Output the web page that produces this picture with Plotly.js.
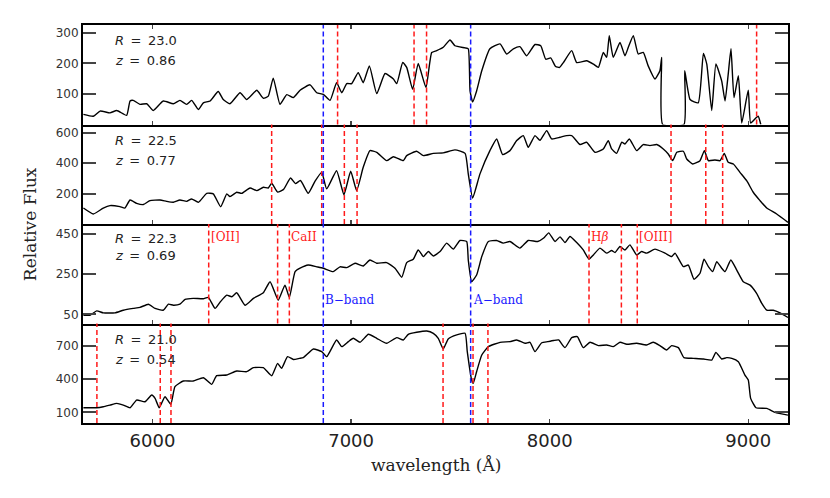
<!DOCTYPE html>
<html>
<head>
<meta charset="utf-8">
<script src="https://cdn.plot.ly/plotly-3.0.1.min.js"></script>
<style>
  body { margin: 0; background: #fff; }
  #plot { width: 830px; height: 498px; }
</style>
</head>
<body>
<div id="plot"></div>
<script>
// spectra (wavelength in Angstrom, relative flux)
const wl1 = [5652,5702,5736,5786,5820,5870,5887,5903,5937,5971,6004,6054,6105,6138,6172,6197,6231,6256,6290,6331,6356,6390,6441,6474,6525,6558,6583,6608,6642,6676,6709,6743,6793,6827,6860,6894,6927,6953,6978,7003,7036,7061,7092,7129,7171,7213,7230,7260,7280,7310,7338,7377,7406,7431,7464,7498,7523,7574,7590,7599,7612,7632,7658,7699,7750,7783,7817,7850,7884,7926,7955,7980,8005,8030,8050,8069,8111,8136,8186,8220,8245,8270,8287,8300,8320,8354,8379,8396,8421,8446,8471,8496,8530,8555,8564,8569,8676,8680,8707,8748,8774,8791,8816,8837,8866,8883,8899,8913,8928,8950,8967,9000,9012,9039,9050,9063];
const flux1 = [33,27,44,38,46,30,77,79,66,68,46,77,68,79,66,79,49,71,77,108,82,68,104,82,112,86,93,152,66,98,88,112,130,104,99,79,137,104,134,134,170,137,192,101,167,149,134,203,187,115,200,121,236,242,253,277,258,251,248,110,74,110,176,248,264,231,248,255,225,262,258,214,218,190,187,203,242,203,209,198,187,236,220,291,220,269,225,253,291,231,236,192,149,176,220,0,0,176,82,71,233,198,46,198,143,77,165,248,88,160,5,112,5,22,27,0];

const wl2 = [5652,5702,5752,5786,5836,5861,5887,5920,5954,5987,6038,6071,6105,6138,6172,6197,6231,6273,6306,6343,6374,6390,6424,6449,6491,6525,6558,6583,6600,6630,6660,6695,6720,6745,6784,6818,6852,6877,6927,6964,6998,7028,7061,7095,7129,7179,7213,7263,7280,7330,7364,7414,7464,7523,7574,7590,7612,7649,7699,7733,7763,7800,7834,7867,7892,7926,7951,7985,8010,8052,8085,8111,8153,8186,8228,8270,8295,8312,8337,8363,8379,8401,8438,8471,8505,8539,8572,8597,8619,8640,8673,8690,8720,8757,8779,8799,8832,8858,8879,8899,8925,8958,8992,9025,9059,9093,9143,9200];
const flux2 = [105,66,105,121,114,105,158,136,128,154,158,149,143,158,149,165,143,202,198,114,198,180,209,202,237,220,242,237,268,210,228,303,266,286,202,281,340,231,351,193,347,220,373,483,472,417,443,417,450,479,450,465,468,488,465,330,171,330,483,560,457,483,549,582,505,582,551,615,560,571,582,582,523,538,472,494,549,494,465,538,527,560,483,523,516,523,494,461,417,472,479,428,395,417,483,417,421,417,465,406,395,340,285,209,154,105,66,11];

const wl3 = [5652,5685,5719,5752,5811,5853,5903,5937,5979,6013,6054,6080,6105,6138,6164,6205,6256,6281,6315,6340,6374,6399,6424,6466,6508,6558,6592,6633,6667,6689,6718,6743,6784,6827,6860,6910,6944,6978,7020,7061,7095,7129,7179,7221,7255,7280,7313,7338,7364,7389,7414,7448,7481,7515,7548,7582,7590,7607,7632,7658,7691,7733,7766,7800,7850,7892,7940,7970,7995,8027,8052,8077,8102,8136,8169,8198,8220,8253,8287,8312,8329,8354,8379,8404,8438,8463,8488,8530,8581,8614,8631,8673,8698,8727,8757,8777,8799,8821,8841,8866,8883,8912,8942,8975,9009,9042,9068,9093,9126,9160,9200];
const flux3 = [46,46,68,58,58,71,80,85,101,80,71,101,96,101,125,130,128,135,80,111,146,138,158,96,130,158,213,121,196,135,263,280,296,287,280,263,287,283,305,291,321,305,308,280,235,308,325,371,338,363,341,363,405,375,418,413,321,213,246,338,413,418,405,413,380,418,413,430,456,413,436,408,438,408,371,325,346,380,355,368,358,388,371,396,346,363,355,375,355,338,355,288,296,225,255,325,288,263,313,280,263,321,271,213,196,155,105,71,71,58,35];

const wl4 = [5652,5719,5752,5786,5820,5853,5887,5920,5962,5996,6013,6034,6063,6092,6113,6155,6205,6256,6298,6323,6374,6424,6474,6508,6558,6600,6630,6650,6680,6709,6740,6759,6810,6852,6877,6927,6953,6986,7011,7045,7087,7129,7179,7230,7263,7288,7330,7381,7414,7439,7464,7489,7532,7574,7585,7607,7615,7632,7658,7691,7750,7800,7834,7876,7901,7926,7960,7990,8020,8045,8077,8111,8139,8169,8203,8245,8287,8320,8354,8388,8438,8488,8522,8555,8589,8614,8648,8676,8723,8774,8816,8837,8866,8891,8917,8950,8983,9000,9012,9039,9093,9135,9200];
const flux4 = [141,141,150,165,180,165,141,210,195,255,225,141,240,171,330,381,381,411,351,429,435,471,465,501,501,429,540,495,600,575,585,591,669,645,600,750,690,735,765,729,801,765,720,771,750,801,819,831,810,765,669,759,795,810,645,390,360,465,615,690,729,735,750,720,729,645,725,735,745,750,681,771,780,681,729,699,705,690,729,711,720,705,729,699,660,699,681,591,585,579,570,639,579,591,585,555,435,390,225,141,135,99,75];

// observed positions of the marked lines (red) and telluric bands (blue)
const lines1 = [6932, 7317, 7380, 9042];
const lines2 = [6600, 6852, 6966, 7030, 8611, 8786, 8871];
const lines3 = [6283, 6630, 6689, 8198, 8361, 8441];
const lines4 = [5720, 6039, 6093, 7463, 7614, 7689];
const bands = [6860, 7602];

const magR = ["23.0", "22.5", "22.3", "21.0"];
const redshift = ["0.86", "0.77", "0.69", "0.54"];

const yRanges = [[0, 326], [0, 655], [5, 500], [4, 898]];
const yTicks = [[100, 200, 300], [200, 400, 600], [50, 250, 450], [100, 400, 700]];
const xTicks = [6000, 7000, 8000, 9000];

// labels in the third panel
const labelNames = ["[OII]", "CaII", "H<i>β</i>", "[OIII]"];
const labelWl = [6283, 6689, 8198, 8441];
const bandNames = ["B\u2212band", "A\u2212band"];

const panels = [
  {wl: wl1, flux: flux1, lines: lines1},
  {wl: wl2, flux: flux2, lines: lines2},
  {wl: wl3, flux: flux3, lines: lines3},
  {wl: wl4, flux: flux4, lines: lines4}
];

const traces = [];
const shapes = [];
const annotations = [];
const layout = {
  width: 830,
  height: 498,
  margin: {l: 83, r: 42, t: 25, b: 75},
  paper_bgcolor: "white",
  plot_bgcolor: "white",
  showlegend: false,
  font: {family: "DejaVu Sans", color: "black"}
};

// label offsets from panel top (fraction of panel height)
const rPos = [0.84, 0.835, 0.857, 0.84];
const zPos = [0.64, 0.64, 0.68, 0.64];

panels.forEach((p, i) => {
  const s = i === 0 ? "" : String(i + 1);
  traces.push({
    x: p.wl,
    y: p.flux,
    xaxis: "x" + s,
    yaxis: "y" + s,
    type: "scatter",
    mode: "lines",
    line: {color: "black", width: 1.4, shape: "spline", smoothing: 0.45},
    hoverinfo: "skip"
  });

  // only the top panel mirrors its x line, so shared borders stay single
  layout["xaxis" + s] = {
    range: [5650, 9200],
    anchor: "y" + s,
    tickvals: xTicks,
    ticks: "inside",
    ticklen: 4,
    tickwidth: 1.5,
    showline: true,
    linewidth: 2,
    linecolor: "black",
    mirror: i === 0 ? "ticks" : false,
    showgrid: false,
    zeroline: false,
    showticklabels: i === 3,
    tickfont: {family: "DejaVu Sans", size: 18, color: "#222"}
  };
  layout["yaxis" + s] = {
    domain: [(3 - i) * 0.25, (4 - i) * 0.25],
    range: yRanges[i],
    anchor: "x" + s,
    tickvals: yTicks[i],
    ticks: "inside",
    ticklen: 13,
    tickwidth: 2,
    showline: true,
    linewidth: 2,
    linecolor: "black",
    mirror: "ticks",
    showgrid: false,
    zeroline: false,
    tickfont: {family: "DejaVu Sans", size: 12, color: "#333"}
  };

  p.lines.forEach(w => shapes.push({
    type: "line", xref: "x" + s, yref: "y" + s + " domain",
    x0: w, x1: w, y0: 0, y1: 1,
    line: {color: "#ff1a1a", width: 1.5, dash: "5px,3px"}
  }));
  bands.forEach(w => shapes.push({
    type: "line", xref: "x" + s, yref: "y" + s + " domain",
    x0: w, x1: w, y0: 0, y1: 1,
    line: {color: "#1a1aff", width: 1.5, dash: "5px,3px"}
  }));

  annotations.push({
    xref: "paper", yref: "y" + s + " domain", x: 0.0426, y: rPos[i],
    xanchor: "left", yanchor: "middle", showarrow: false,
    text: "<i>R</i>\u2002=\u2002" + magR[i],
    font: {family: "DejaVu Sans", size: 13, color: "#222"}
  });
  annotations.push({
    xref: "paper", yref: "y" + s + " domain", x: 0.0426, y: zPos[i],
    xanchor: "left", yanchor: "middle", showarrow: false,
    text: "<i>z</i>\u2002=\u2002" + redshift[i],
    font: {family: "DejaVu Sans", size: 13, color: "#222"}
  });
});

labelNames.forEach((t, k) => annotations.push({
  xref: "x3", yref: "y3 domain", x: labelWl[k], y: 0.873,
  xanchor: "left", yanchor: "middle", showarrow: false,
  text: t, font: {family: "DejaVu Serif", size: 12, color: "#ff1a1a"}
}));
bandNames.forEach((t, k) => annotations.push({
  xref: "x3", yref: "y3 domain", x: bands[k], y: 0.237,
  xanchor: "left", yanchor: "middle", showarrow: false,
  text: t, font: {family: "DejaVu Serif", size: 12, color: "#1a1aff"}
}));

// axis titles
annotations.push({
  xref: "paper", yref: "paper", x: -0.075, y: 0.5,
  xanchor: "center", yanchor: "middle", textangle: -90, showarrow: false,
  text: "Relative Flux", font: {family: "DejaVu Serif", size: 17, color: "#222"}
});
annotations.push({
  xref: "paper", yref: "paper", x: 0.5, y: -0.105,
  xanchor: "center", yanchor: "middle", showarrow: false,
  text: "wavelength (Å)", font: {family: "DejaVu Serif", size: 17, color: "#222"}
});

layout.shapes = shapes;
layout.annotations = annotations;

Plotly.newPlot("plot", traces, layout, {staticPlot: true});
</script>
</body>
</html>
